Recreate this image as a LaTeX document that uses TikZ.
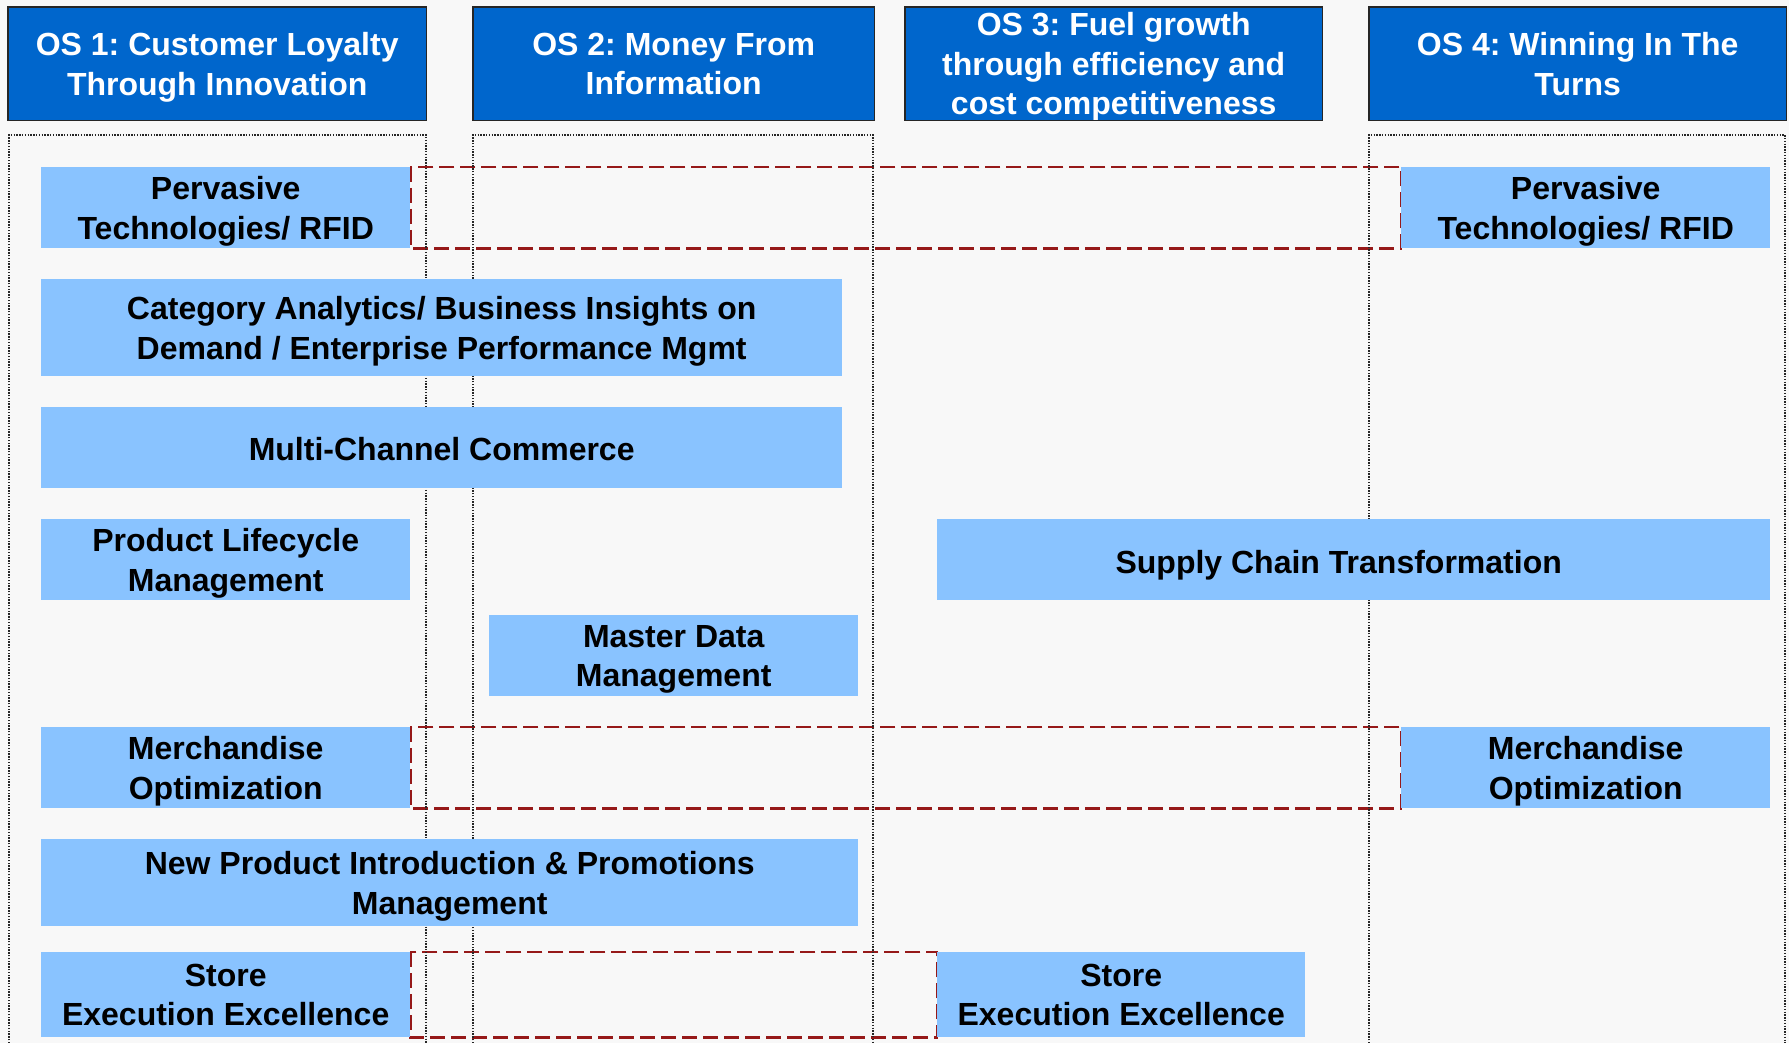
\documentclass[tikz,border=0pt]{standalone}
\usepackage{fontspec}
\setmainfont{Liberation Sans}
\usetikzlibrary{backgrounds}
\frenchspacing
\definecolor{pagebg}{HTML}{F8F8F8}
\definecolor{headblue}{HTML}{0066CC}
\definecolor{itemblue}{HTML}{89C3FF}
\definecolor{linkred}{RGB}{150,25,25}
\begin{document}
\begin{tikzpicture}[x=1pt,y=-1pt,
  % text set in the boxes: equal struts on first and last line, nudged down a little
  words/.style={font=\fontsize{32}{39.5}\selectfont\bfseries, align=center,
    inner sep=0pt, yshift=-3.7pt,
    execute at begin node={\rule{0pt}{30pt}},
    execute at end node={\rule[-7pt]{0pt}{7pt}}},
  card/.style={inner sep=0pt, anchor=north west, minimum width=#1},
  head/.style={card=#1, fill=headblue, minimum height=113pt},
  item/.style={card=#1, fill=itemblue},
  headtext/.style={words, text=white},
  itemtext/.style={words, text=black},
  lane/.style={draw=black!85, line width=1.4pt, dash pattern=on 1.4pt off 1.4pt},
  link/.style={draw=linkred, line width=2.5pt, dash pattern=on 15pt off 6pt},
  frame/.style={draw=black!85, line width=1.6pt}]
\useasboundingbox (0,0) rectangle (1789,1043);

% headers
\node[head=418pt, label={[headtext]center:{OS 1: Customer Loyalty\\Through Innovation}}] (h1) at (8,7) {};
\node[head=401pt, label={[headtext]center:{OS 2: Money From\\Information}}] (h2) at (473,7) {};
\node[head=417pt, label={[headtext]center:{OS 3: Fuel growth\\through efficiency and\\cost competitiveness}}] (h3) at (905,7) {};
\node[head=417pt, label={[headtext]center:{OS 4: Winning In The\\Turns}}] (h4) at (1369,7) {};
\foreach \h in {h1,h2,h3,h4}
  \draw[frame] (\h.north west) rectangle (\h.south east);

% initiatives
\node[item=369pt, minimum height=81pt,
  label={[itemtext]center:{Pervasive\\Technologies/ RFID}}] (pt1) at (41,167) {};
\node[item=369pt, minimum height=81pt,
  label={[itemtext]center:{Pervasive\\Technologies/ RFID}}] (pt4) at (1401,167) {};
\node[item=801pt, minimum height=97pt,
  label={[itemtext]center:{Category Analytics/ Business Insights on\\Demand / Enterprise Performance Mgmt}}] (ca) at (41,279) {};
\node[item=801pt, minimum height=81pt,
  label={[itemtext, yshift=2pt]center:{Multi-Channel Commerce}}] (mc) at (41,407) {};
\node[item=369pt, minimum height=81pt,
  label={[itemtext]center:{Product Lifecycle\\Management}}] (plm) at (41,519) {};
\node[item=833pt, minimum height=81pt,
  label={[itemtext, yshift=1pt]center:{Supply Chain Transformation\rule{30pt}{0pt}}}] (sct) at (937,519) {};
\node[item=369pt, minimum height=81pt,
  label={[itemtext]center:{Master Data\\Management}}] (mdm) at (489,615) {};
\node[item=369pt, minimum height=81pt,
  label={[itemtext]center:{Merchandise\\Optimization}}] (mo1) at (41,727) {};
\node[item=369pt, minimum height=81pt,
  label={[itemtext]center:{Merchandise\\Optimization}}] (mo4) at (1401,727) {};
\node[item=817pt, minimum height=87pt,
  label={[itemtext]center:{New Product Introduction \& Promotions\\Management}}] (npi) at (41,839) {};
\node[item=369pt, minimum height=85pt,
  label={[itemtext]center:{Store\\Execution Excellence}}] (se1) at (41,952) {};
\node[item=368pt, minimum height=85pt,
  label={[itemtext]center:{Store\\Execution Excellence}}] (se3) at (937,952) {};

\begin{pgfonlayer}{background}
  \fill[pagebg] (0,0) rectangle (1789,1043);
  % links between repeated initiatives
  \draw[link] (pt1.north east) rectangle (pt4.south west);
  \draw[link] (mo1.north east) rectangle (mo4.south west);
  \draw[link] (se1.north east) rectangle (se3.south west);
  % dotted swim lanes
  \begin{scope}
    \clip (0,0) rectangle (1789,1043);
    \draw[lane] (9,1060) -- (9,135) -- (426,135) -- (426,1060);
    \draw[lane] (473,1060) -- (473,135) -- (873,135) -- (873,1060);
    \draw[lane] (1369,1060) -- (1369,135) -- (1785,135) -- (1785,1060);
  \end{scope}
\end{pgfonlayer}
\end{tikzpicture}
\end{document}
